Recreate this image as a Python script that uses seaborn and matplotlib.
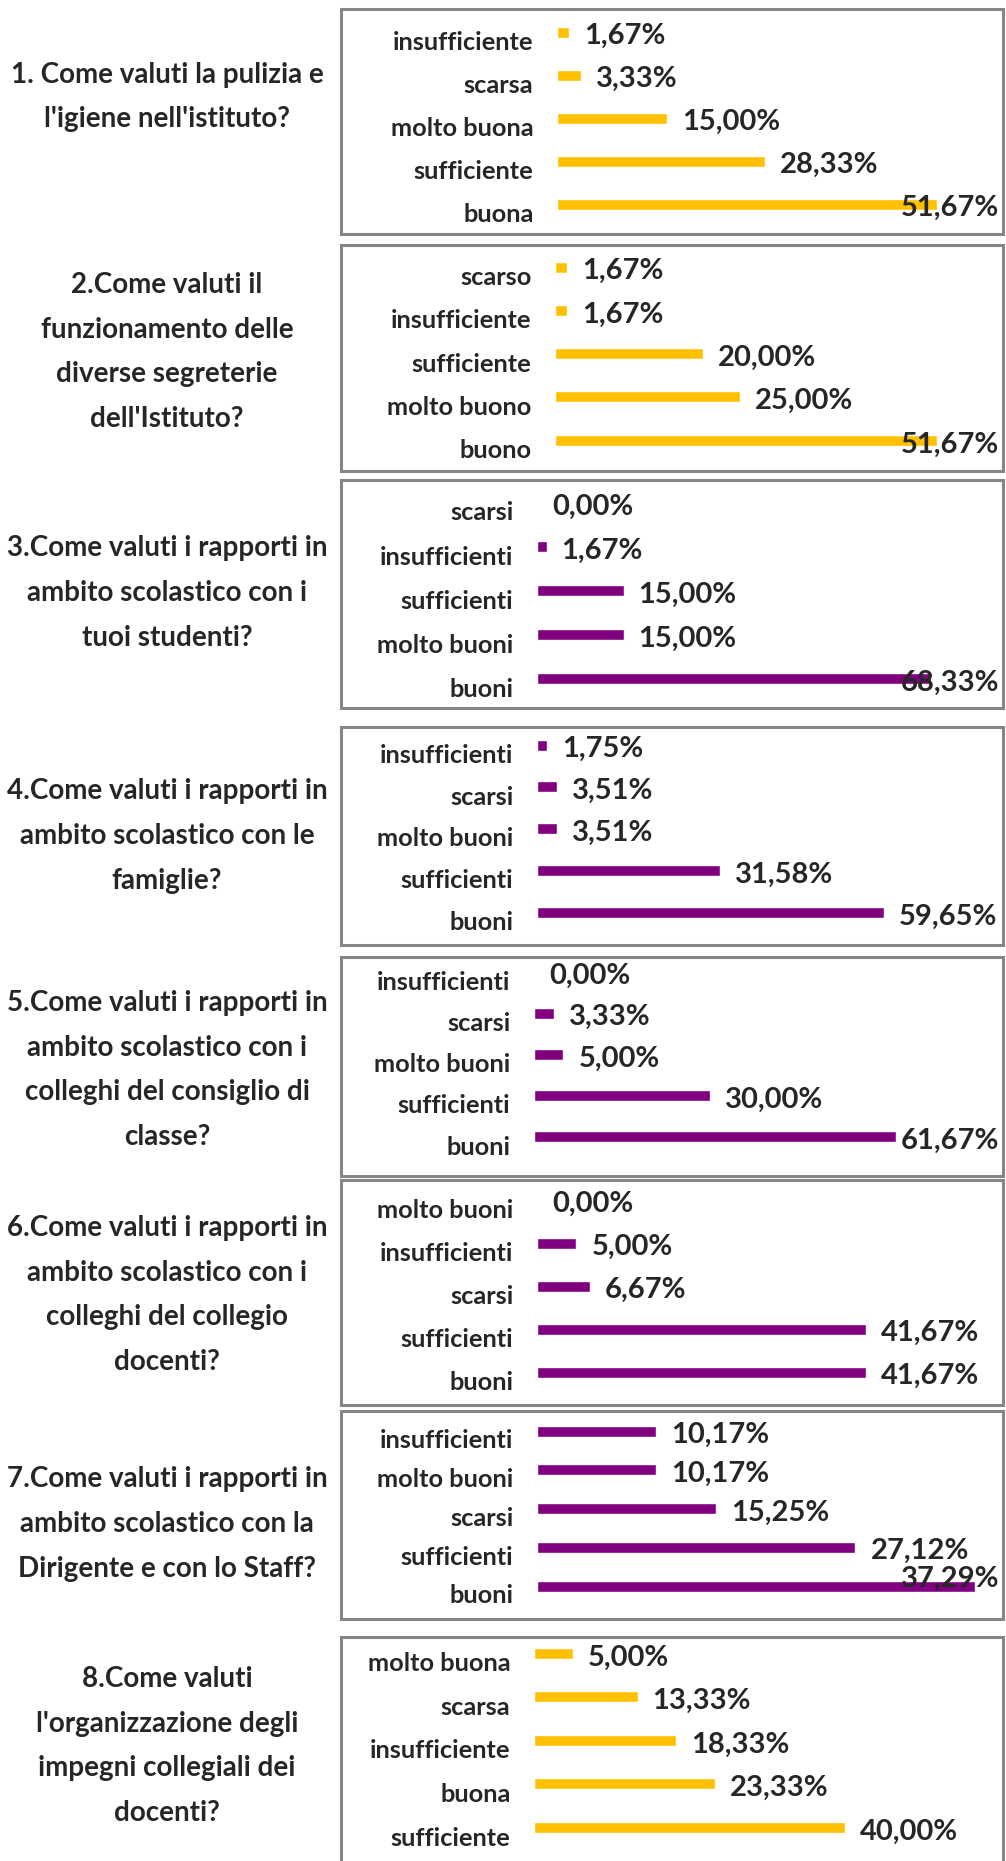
import numpy as np
import pandas as pd
import seaborn as sns
import matplotlib.pyplot as plt
from matplotlib.patches import Rectangle

# Data
questions = [
    "1. Come valuti la pulizia e\nl'igiene nell'istituto?",
    "2.Come valuti il\nfunzionamento delle\ndiverse segreterie\ndell'Istituto?",
    "3.Come valuti i rapporti in\nambito scolastico con i\ntuoi studenti?",
    "4.Come valuti i rapporti in\nambito scolastico con le\nfamiglie?",
    "5.Come valuti i rapporti in\nambito scolastico con i\ncolleghi del consiglio di\nclasse?",
    "6.Come valuti i rapporti in\nambito scolastico con i\ncolleghi del collegio\ndocenti?",
    "7.Come valuti i rapporti in\nambito scolastico con la\nDirigente e con lo Staff?",
    "8.Come valuti\nl'organizzazione degli\nimpegni collegiali dei\ndocenti?",
]

cats1 = ['insufficiente', 'scarsa', 'molto buona', 'sufficiente', 'buona']
vals1 = [1.67, 3.33, 15.00, 28.33, 51.67]
cats2 = ['scarso', 'insufficiente', 'sufficiente', 'molto buono', 'buono']
vals2 = [1.67, 1.67, 20.00, 25.00, 51.67]
cats3 = ['scarsi', 'insufficienti', 'sufficienti', 'molto buoni', 'buoni']
vals3 = [0.00, 1.67, 15.00, 15.00, 68.33]
cats4 = ['insufficienti', 'scarsi', 'molto buoni', 'sufficienti', 'buoni']
vals4 = [1.75, 3.51, 3.51, 31.58, 59.65]
cats5 = ['insufficienti', 'scarsi', 'molto buoni', 'sufficienti', 'buoni']
vals5 = [0.00, 3.33, 5.00, 30.00, 61.67]
cats6 = ['molto buoni', 'insufficienti', 'scarsi', 'sufficienti', 'buoni']
vals6 = [0.00, 5.00, 6.67, 41.67, 41.67]
cats7 = ['insufficienti', 'molto buoni', 'scarsi', 'sufficienti', 'buoni']
vals7 = [10.17, 10.17, 15.25, 27.12, 37.29]
cats8 = ['molto buona', 'scarsa', 'insufficiente', 'buona', 'sufficiente']
vals8 = [5.00, 13.33, 18.33, 23.33, 40.00]

all_cats = [cats1, cats2, cats3, cats4, cats5, cats6, cats7, cats8]
all_vals = [vals1, vals2, vals3, vals4, vals5, vals6, vals7, vals8]

GOLD = '#FFC000'
PURPLE = '#800080'
colors = [GOLD, GOLD, PURPLE, PURPLE, PURPLE, PURPLE, PURPLE, GOLD]

# layout in pixels (figure is 1006 x 1861)
W, H = 1006, 1861
box_x = (341, 1003)
box_y = [(9, 234), (245, 471), (480, 708), (727, 945),
         (957, 1176), (1180, 1405), (1411, 1619), (1637, 1880)]
bar_x0 = [557, 555, 537, 537, 534, 537, 537, 534]
px_per_pct = [7.35, 7.39, 5.77, 5.81, 5.87, 7.89, 11.74, 7.77]
bar_first = [32, 267, 502, 745, 972, 1200, 1431, 1653]
bar_step = [43.0, 43.3, 44.2, 41.8, 41.2, 43.0, 38.8, 43.6]
text_y = [97, 352, 593, 836, 1070, 1295, 1524, 1746]
bar_px = 11

sns.set_style('white')
plt.rcParams['font.family'] = ['Lato', 'DejaVu Sans']
plt.rcParams['font.weight'] = 'bold'

fig = plt.figure(figsize=(W / 100, H / 100), dpi=100)

labels = []
for i in range(8):
    y0, y1 = box_y[i]
    fig.add_artist(Rectangle((box_x[0] / W, 1 - y1 / H), (box_x[1] - box_x[0]) / W, (y1 - y0) / H,
                             transform=fig.transFigure, fill=False, ec='#868686', lw=2.2))
    fig.text(167 / W, 1 - text_y[i] / H, questions[i], ha='center', va='center',
             fontsize=20, fontweight='bold', linespacing=1.9)

    step = bar_step[i]
    top = bar_first[i] - step / 2
    bot = bar_first[i] + 4.5 * step
    left = bar_x0[i]
    ax = fig.add_axes([left / W, 1 - bot / H, (box_x[1] - 3 - left) / W, (bot - top) / H])
    ax.set_facecolor('none')
    df = pd.DataFrame({'cat': all_cats[i], 'val': all_vals[i]})
    sns.barplot(data=df, x='val', y='cat', color=colors[i], saturation=1,
                width=bar_px / step, ax=ax)
    ax.set_xlim(0, (box_x[1] - 3 - left) / px_per_pct[i])
    ax.set_ylim(4.5, -0.5)
    ax.set_yticks(np.arange(5) + 0.2, labels=all_cats[i])
    ax.tick_params(axis='y', length=0, pad=17, labelsize=18.3)
    ax.set_xticks([])
    ax.set_xlabel('')
    ax.set_ylabel('')
    for s in ax.spines.values():
        s.set_visible(False)
    gap = 15 / px_per_pct[i]
    for j, v in enumerate(all_vals[i]):
        t = ax.text(v + gap, j + 0.1, f'{v:.2f}%'.replace('.', ','), ha='left', va='center',
                    fontsize=21, fontweight='bold')
        labels.append((ax, t, i, j))

# keep value labels inside the chart boxes, like the original
fig.canvas.draw()
renderer = fig.canvas.get_renderer()
for ax, t, i, j in labels:
    bb = t.get_window_extent(renderer)
    limit = box_x[1] - 4
    if bb.x1 > limit:
        x_disp = limit - bb.width
        x_data = ax.transData.inverted().transform((x_disp, 0))[0]
        y = t.get_position()[1]
        if i == 6:
            y -= 0.3
        t.set_position((x_data, y))

fig.savefig('out.png', dpi=100)
